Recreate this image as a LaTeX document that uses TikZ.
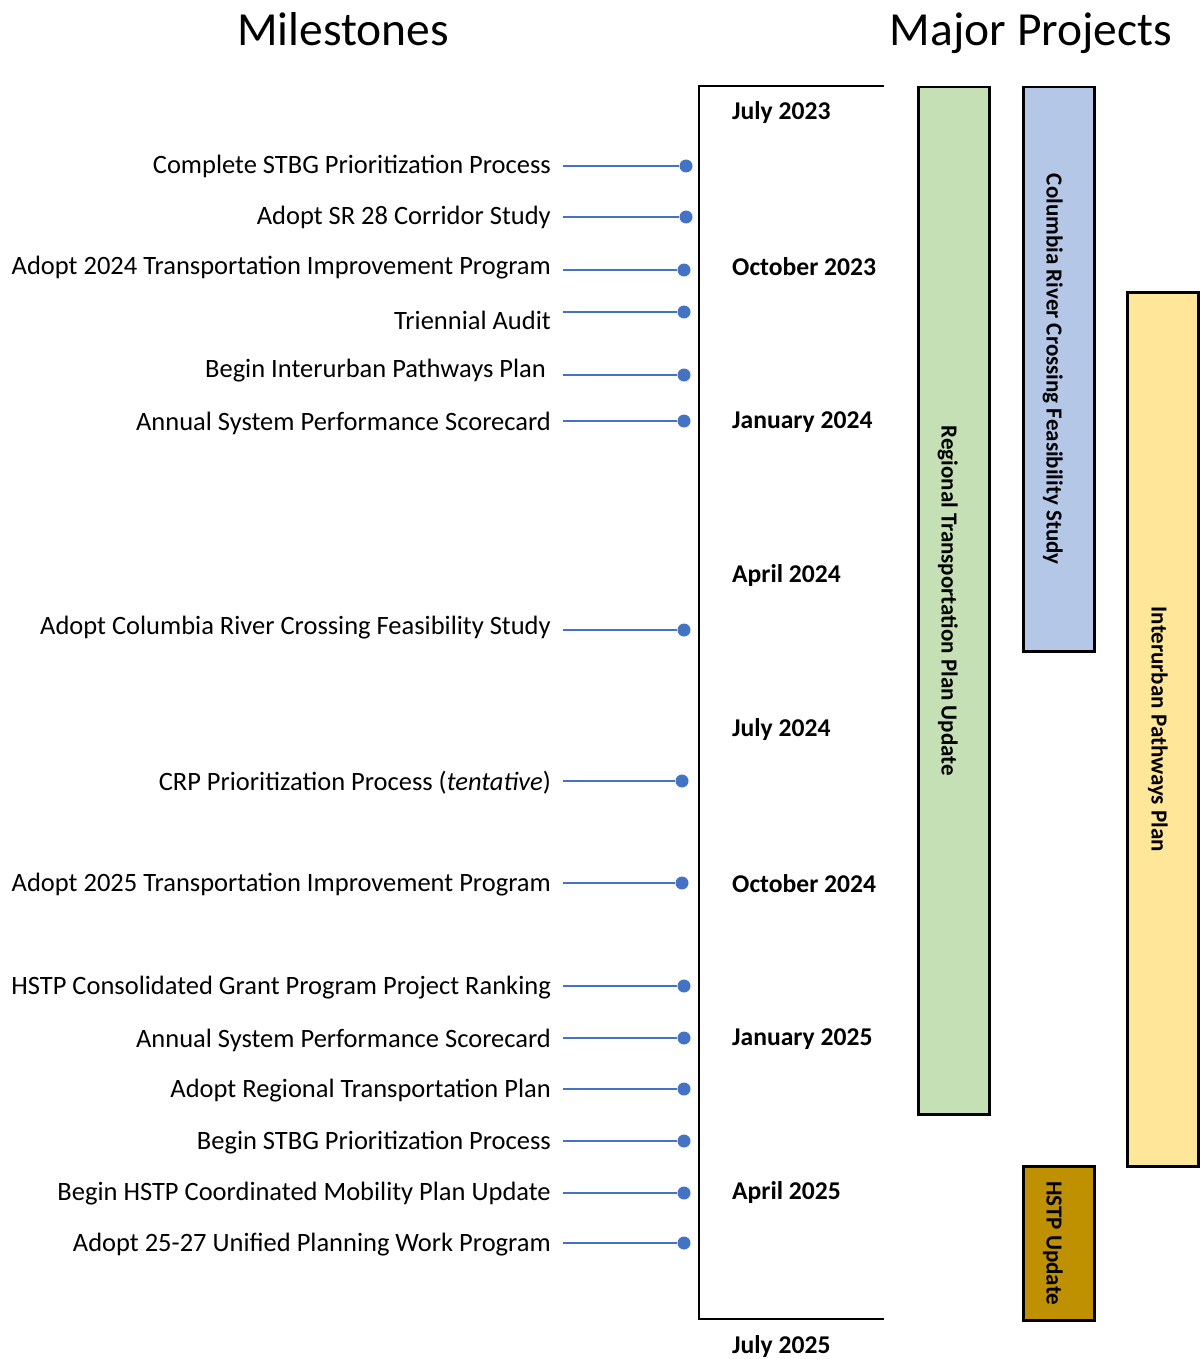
\documentclass[tikz,border=0pt]{standalone}
\usepackage{fontspec}
\setmainfont{Carlito}
\usepackage{tikz}
\usetikzlibrary{positioning, calc}
\definecolor{tl-blue}{HTML}{4472C4}
\definecolor{tl-green}{HTML}{C5E0B4}
\definecolor{tl-sky}{HTML}{B4C7E7}
\definecolor{tl-yellow}{HTML}{FFE699}
\definecolor{tl-gold}{HTML}{BF9000}

\begin{document}
\begin{tikzpicture}[x=1pt, y=-1pt,
    title/.style={anchor=base, font=\fontsize{47.5}{52}\selectfont},
    mile/.style={anchor=east, inner sep=0pt, yshift=-2pt, font=\fontsize{26.5}{30}\selectfont},
    dot/.style={circle, fill=tl-blue, inner sep=0pt, minimum size=13pt},
    link/.style={tl-blue, line width=1.3pt},
    when/.style={anchor=west, inner sep=0pt, yshift=-1pt, font=\fontsize{25.6}{30}\selectfont\bfseries},
    bar/.style={draw, line width=2.5pt, anchor=north west, inner sep=0pt},
    barlabel/.style={rotate=-90, font=\fontsize{23}{27}\selectfont\bfseries},
]
    \useasboundingbox (0,0) rectangle (1199,1359);

    \node[title] (miles) at (343, 46) {Milestones};
    \node[title] (major) at (1031, 46) {Major Projects};

    % timeline bracket
    \coordinate (tltop) at (884, 86);
    \coordinate (tlbot) at (884, 1319);
    \draw[line width=2.5pt] (tltop) -- (699, 86) -- (699, 1319) -- (tlbot);

    % quarter labels
    \node[when] (q1) at (732, 112) {July 2023};
    \node[when] (q2) at (732, 266) {October 2023};
    \node[when] (q3) at (732, 421) {January 2024};
    \node[when] (q4) at (732, 575) {April 2024};
    \node[when] (q5) at (732, 729) {July 2024};
    \node[when] (q6) at (732, 883) {October 2024};
    \node[when] (q7) at (732, 1038) {January 2025};
    \node[when] (q8) at (732, 1192) {April 2025};
    \node[when] (q9) at (732, 1346) {July 2025};

    % milestones: text y / line y / dot x / text
    \foreach \ty/\ly/\dx/\txt [count=\i] in {
        164/166/686/Complete STBG Prioritization Process,
        215/217/686/Adopt SR 28 Corridor Study,
        266/270/684/Adopt 2024 Transportation Improvement Program,
        318/312/684/Triennial Audit,
        369/375/684/Begin Interurban Pathways Plan\kern5pt,
        421/421/684/Annual System Performance Scorecard,
        626/630/684/Adopt Columbia River Crossing Feasibility Study,
        781/781/682/CRP Prioritization Process (\textit{tentative}),
        883/883/682/Adopt 2025 Transportation Improvement Program,
        986/986/684/HSTP Consolidated Grant Program Project Ranking,
        1038/1038/684/Annual System Performance Scorecard,
        1089/1089/684/Adopt Regional Transportation Plan,
        1141/1141/684/Begin STBG Prioritization Process,
        1192/1193/684/Begin HSTP Coordinated Mobility Plan Update,
        1243/1243/684/Adopt 25-27 Unified Planning Work Program} {
        \node[mile] (m\i) at (551, \ty) {\txt};
        \node[dot] (d\i) at (\dx, \ly) {};
        \draw[link] ($(m\i.east |- d\i) + (12, 0)$) -- (d\i);
    }

    % project bars
    \node[bar, fill=tl-green, minimum width=71pt, minimum height=1027pt] (rtp) at (917, 86) {};
    \node[bar, fill=tl-sky, minimum width=71pt, minimum height=564pt] (crc) at (1022, 86) {};
    \node[bar, fill=tl-yellow, minimum width=71pt, minimum height=874pt] (ipp) at (1126, 291) {};
    \node[bar, fill=tl-gold, minimum width=71pt, minimum height=154pt] (hstp) at (1022, 1165) {};

    \node[barlabel] at ($(rtp.center) + (-6, 0)$) {Regional Transportation Plan Update};
    \node[barlabel] at ($(crc.center) + (-6, 0)$) {Columbia River Crossing Feasibility Study};
    \node[barlabel] at ($(ipp.center) + (-5, 0)$) {Interurban Pathways Plan};
    \node[barlabel] at ($(hstp.center) + (-6, 0)$) {HSTP Update};
\end{tikzpicture}
\end{document}
